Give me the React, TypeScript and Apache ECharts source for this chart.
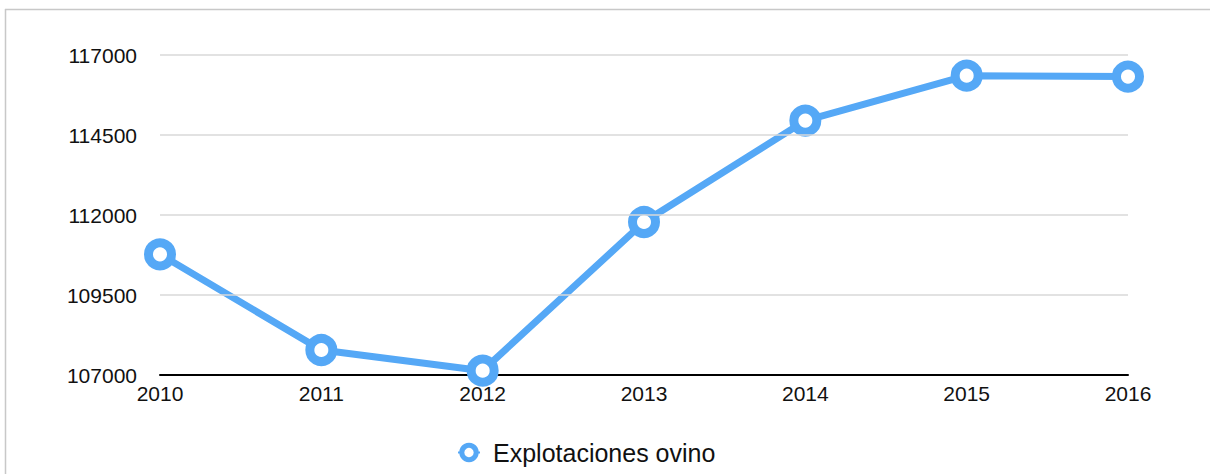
import React, { useEffect, useRef } from "react";
import * as echarts from "echarts";

const categories = ["2010", "2011", "2012", "2013", "2014", "2015", "2016"];
const seriesName = "Explotaciones ovino";
const values = [110770, 107780, 107135, 111780, 114950, 116355, 116325];
const yTicks = [107000, 109500, 112000, 114500, 117000];

const BLUE = "#55a8f6";
const FONT = "'Liberation Sans', Arial, Helvetica, sans-serif";

export default function App() {
  const ref = useRef<HTMLDivElement>(null);
  useEffect(() => {
    if (!ref.current) return;
    const chart = echarts.init(ref.current, null, { renderer: "svg" });
    const yMin = yTicks[0];
    const yMax = yTicks[yTicks.length - 1];
    chart.setOption({
      animation: false,
      backgroundColor: "#ffffff",
      textStyle: { fontFamily: FONT },
      grid: { left: 160, right: 82, top: 55, bottom: 99, containLabel: false },
      graphic: [
        { type: "line", shape: { x1: 5, y1: 9.5, x2: 1210, y2: 9.5 }, style: { stroke: "#c8c8c8", lineWidth: 1.5 } },
        { type: "line", shape: { x1: 5.5, y1: 9, x2: 5.5, y2: 474 }, style: { stroke: "#c8c8c8", lineWidth: 1.5 } },
      ],
      legend: {
        data: [seriesName],
        left: 452,
        top: 435,
        itemWidth: 22,
        itemHeight: 18,
        itemStyle: { color: "#fff", borderColor: BLUE, borderWidth: 5 },
        textStyle: { fontSize: 25, color: "#111", fontFamily: FONT, padding: [0, 0, 0, 8] },
      },
      xAxis: {
        type: "category",
        data: categories,
        boundaryGap: false,
        axisTick: { show: false },
        axisLine: { show: true, lineStyle: { color: "#000", width: 2 } },
        axisLabel: { fontSize: 21, color: "#111", margin: 8, fontFamily: FONT },
        splitLine: { show: false },
      },
      yAxis: {
        type: "value",
        min: yMin,
        max: yMax,
        interval: 500,
        axisLine: { show: false },
        axisTick: { show: false },
        splitLine: { show: false },
        axisLabel: {
          fontSize: 21,
          color: "#111",
          margin: 23,
          fontFamily: FONT,
          formatter: (v: number) => (yTicks.includes(Math.round(v)) ? String(Math.round(v)) : ""),
        },
      },
      series: [
        {
          name: "grid",
          type: "line",
          data: [],
          z: 1,
          silent: true,
          markLine: {
            silent: true,
            symbol: ["none", "none"],
            label: { show: false },
            lineStyle: { color: "#d9d9d9", width: 1.5, type: "solid" },
            data: yTicks.slice(1).map((t) => ({ yAxis: t })),
          },
        },
        {
          name: seriesName,
          type: "line",
          data: values,
          z: 3,
          symbol: "circle",
          symbolSize: 23,
          showAllSymbol: true,
          color: BLUE,
          lineStyle: { color: BLUE, width: 7 },
          itemStyle: { color: "#ffffff", borderColor: BLUE, borderWidth: 9 },
        },
      ],
    });
    return () => chart.dispose();
  }, []);
  return (
    <div
      ref={ref}
      style={{ position: "absolute", left: 0, top: 0, width: 1210, height: 474 }}
    />
  );
}
